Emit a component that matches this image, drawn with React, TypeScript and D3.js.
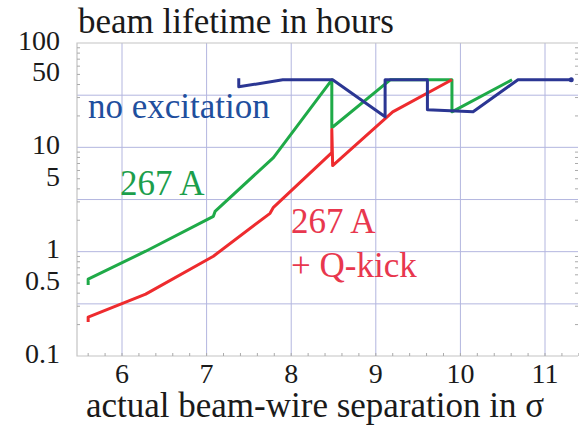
import React from "react";
import * as d3 from "d3";

// beam lifetime (hours) vs beam-wire separation (sigma)
const blueX = [7.38, 7.38, 7.9, 8.49, 9.11, 9.11, 9.61, 9.61, 10.15, 10.68, 11.31];
const blueY = [46, 38, 44.4, 44.4, 19.6, 44.4, 44.4, 22.9, 21.9, 44.4, 44.4];

const greenX = [5.6, 5.6, 6.28, 7.08, 7.1, 7.79, 8.48, 8.48, 9.17, 9.9, 9.9, 10.61];
const greenY = [0.478, 0.545, 1.01, 2.18, 2.43, 7.98, 44.4, 15.4, 44.4, 44.4, 21.9, 44.4];

const redX = [5.6, 5.6, 6.28, 7.08, 7.75, 7.79, 8.48, 8.48, 8.49, 9.2, 9.9];
const redY = [0.212, 0.236, 0.392, 0.904, 2.33, 2.66, 8.9, 14.8, 6.68, 21.9, 44.4];

const xTicks = [6, 7, 8, 9, 10, 11];
const yTicks = [100, 50, 10, 5, 1, 0.5, 0.1];
const yGrid = [0.316, 1, 3.16, 10, 31.6];

const W = 579;
const H = 426;

const left = 77, right = 578, top = 43, bottom = 356;
const x = d3.scaleLinear().domain([5.468, 11.39]).range([left, right]);
const y = d3.scaleLog().domain([0.1, 100]).range([bottom, top]);

const font = '"Liberation Serif", "DejaVu Serif", serif';
const gridColor = "#b3b6df";
const tickColor = "#aaa";

const line = d3.line<[number, number]>()
  .x(d => x(d[0]))
  .y(d => y(d[1]));

const series = [
  { xs: greenX, ys: greenY, color: "#1faa48" },
  { xs: redX, ys: redY, color: "#ee2b2e" },
  { xs: blueX, ys: blueY, color: "#2b3693" },
];

const labels = [
  { t: "no excitation", x: 88, y: 118, c: "#1f4f9e" },
  { t: "267 A", x: 120, y: 195, c: "#1c9e4c" },
  { t: "267 A", x: 291, y: 233, c: "#e8374e" },
  { t: "+ Q-kick", x: 291, y: 277, c: "#e8374e" },
];

const minorY: number[] = [];
[0.1, 1, 10].forEach(b => { for (let k = 2; k <= 9; k++) minorY.push(b * k); });
const minorX = d3.range(5.6, 11.4, 0.2);

const App = () => (
  <svg
    width={W}
    height={H}
    style={{ position: "absolute", left: 0, top: 0, background: "#fff", fontFamily: font }}
  >
    {/* grid */}
    {xTicks.map(d => (
      <line key={"gx" + d} x1={x(d)} x2={x(d)} y1={top} y2={bottom} stroke={gridColor} />
    ))}
    {yGrid.map(d => (
      <line key={"gy" + d} x1={left} x2={right} y1={y(d)} y2={y(d)} stroke={gridColor} />
    ))}

    {/* frame */}
    <path
      d={`M${right},${top}H${left}V${bottom}H${right}`}
      fill="none"
      stroke="#c4c4c4"
      strokeWidth={1.2}
    />

    {/* minor ticks */}
    {minorY.map(d => (
      <g key={"my" + d}>
        <line x1={left} x2={left + 3} y1={y(d)} y2={y(d)} stroke={tickColor} />
        <line x1={right} x2={right - 3} y1={y(d)} y2={y(d)} stroke={tickColor} />
      </g>
    ))}
    {minorX.map(d => (
      <line key={"mx" + d} x1={x(d)} x2={x(d)} y1={bottom} y2={bottom - 3} stroke={tickColor} />
    ))}

    {/* tick labels */}
    {yTicks.map(d => (
      <text
        key={"ty" + d}
        x={60}
        y={y(d) - 3}
        dy="0.35em"
        textAnchor="end"
        fill="#1a1a1a"
        fontSize={28}
        style={{ fontFamily: font }}
      >
        {String(d)}
      </text>
    ))}
    {xTicks.map(d => (
      <text
        key={"tx" + d}
        x={x(d)}
        y={383}
        textAnchor="middle"
        fill="#1a1a1a"
        fontSize={28}
        style={{ fontFamily: font }}
      >
        {String(d)}
      </text>
    ))}

    {/* titles */}
    <text x={78} y={33} fill="#1a1a1a" fontSize={35} style={{ fontFamily: font }}>
      beam lifetime in hours
    </text>
    <text x={86} y={417} fill="#1a1a1a" fontSize={35} style={{ fontFamily: font }}>
      actual beam-wire separation in σ
    </text>

    {/* lines */}
    {series.map((s, i) => (
      <path
        key={"s" + i}
        d={line(s.xs.map((v, j) => [v, s.ys[j]] as [number, number])) || ""}
        fill="none"
        stroke={s.color}
        strokeWidth={3}
        strokeLinejoin="round"
      />
    ))}
    <circle
      cx={x(blueX[blueX.length - 1])}
      cy={y(blueY[blueY.length - 1])}
      r={2.5}
      fill="#2b3693"
    />

    {/* labels */}
    {labels.map((l, i) => (
      <text key={"l" + i} x={l.x} y={l.y} fill={l.c} fontSize={35} style={{ fontFamily: font }}>
        {l.t}
      </text>
    ))}
  </svg>
);

export default App;
